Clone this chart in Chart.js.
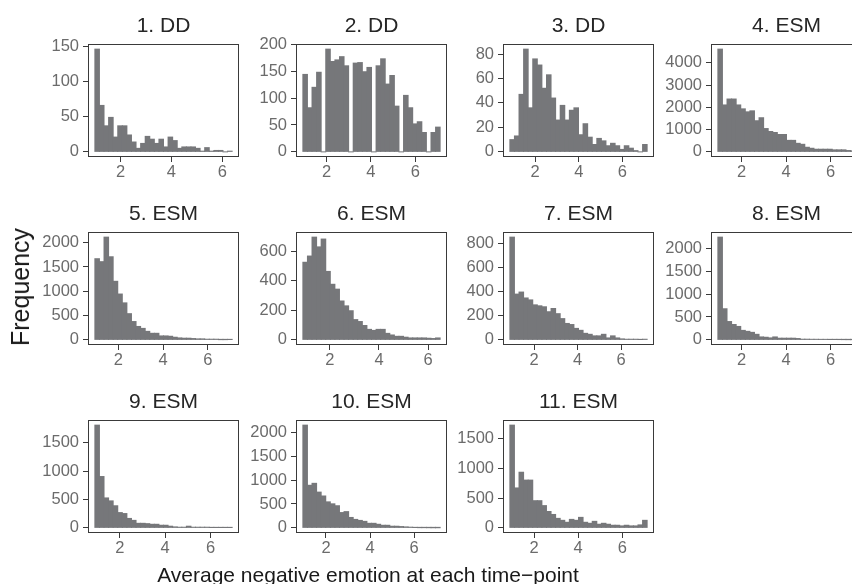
<!DOCTYPE html>
<html><head><meta charset="utf-8">
<script src="https://cdn.jsdelivr.net/npm/chart.js@4.4.0/dist/chart.umd.min.js"></script>
<style>
html,body{margin:0;padding:0;background:#fff}
body{width:852px;height:584px;overflow:hidden;position:relative;font-family:"Liberation Sans",Arial,sans-serif}
canvas{position:absolute}
.ptitle{position:absolute;text-align:center;font-size:21px;line-height:24px;color:#262626;white-space:nowrap}
.axtitle{position:absolute;font-size:21px;line-height:24px;color:#1a1a1a;white-space:nowrap}
</style></head><body>
<script>
const titles = ["1. DD","2. DD","3. DD","4. ESM","5. ESM","6. ESM","7. ESM","8. ESM","9. ESM","10. ESM","11. ESM"];
// left / right edges of the 30-bin histogram range for each panel (data units)
const binLow  = [0.99,0.93,0.84,0.94,0.95,0.90,0.89,0.94,0.90,0.95,0.90];
const binHigh = [6.39,7.12,7.14,7.10,7.08,6.49,7.19,7.10,6.95,7.18,7.13];

const counts1  = [146,66,37,49,21,37,37,24,14,5,12,22,18,12,18,7,21,16,5,7,7,7,5,1,6,1,2,2,0,1];
const counts2  = [144,82,120,148,0,191,168,171,177,160,0,165,166,149,157,0,160,173,126,142,85,0,105,82,52,56,36,0,36,46];
const counts3  = [10,13,47,84,36,76,71,52,63,44,26,38,26,34,36,14,23,12,6,11,9,5,7,5,2,5,3,1,0,6];
const counts4  = [4620,2110,2376,2376,2110,1934,1800,1845,1400,1535,1048,915,870,782,782,517,517,384,340,207,162,118,118,118,118,90,90,90,60,45];
const counts5  = [1670,1609,2114,1710,1205,943,761,539,377,276,236,175,135,135,81,81,74,54,40,34,34,27,20,20,13,13,13,5,5,7];
const counts6  = [525,567,695,629,682,463,376,343,263,230,197,137,124,97,71,64,71,71,44,33,24,24,18,13,13,13,13,11,9,13];
const counts7  = [851,379,396,347,331,290,282,274,233,260,217,176,136,127,95,79,54,46,33,33,46,16,33,16,8,5,5,5,3,5];
const counts8  = [2243,679,400,336,293,207,186,164,121,64,57,43,64,36,36,36,36,29,14,14,12,12,10,10,8,8,7,6,5,5];
const counts9  = [1809,904,527,475,389,269,252,166,132,80,80,74,63,63,46,46,29,17,11,11,29,11,11,11,11,6,6,6,6,6];
const counts10 = [2150,891,932,748,667,544,503,463,320,340,218,177,156,136,95,95,75,54,54,34,34,27,20,14,7,5,5,4,3,3];
const counts11 = [1732,673,938,805,805,458,458,375,276,226,160,127,94,143,127,177,94,77,110,61,77,61,44,44,33,44,33,33,50,127];
const allCounts = [counts1,counts2,counts3,counts4,counts5,counts6,counts7,counts8,counts9,counts10,counts11];

const yTicks1 = [0,50,100,150];
const yTicks2 = [0,50,100,150,200];
const yTicks3 = [0,20,40,60,80];
const yTicks4 = [0,1000,2000,3000,4000];
const yTicks5 = [0,500,1000,1500,2000];
const yTicks6 = [0,200,400,600];
const yTicks7 = [0,200,400,600,800];
const yTicks8 = [0,500,1000,1500,2000];
const yTicks9 = [0,500,1000,1500];
const yTicks10 = [0,500,1000,1500,2000];
const yTicks11 = [0,500,1000,1500];
const allYTicks = [yTicks1,yTicks2,yTicks3,yTicks4,yTicks5,yTicks6,yTicks7,yTicks8,yTicks9,yTicks10,yTicks11];
const xTicks = [2,4,6];

const xTitle = "Average negative emotion at each time−point";
const yTitle = "Frequency";

// ---------- layout ----------
const FONT = '"Liberation Sans", Arial, sans-serif';
const colX = c => Math.round(88 + c * 207.7);
const rowY = r => Math.round(43.5 + r * 188.3);
const PW = 151, PH = 113;
const ML = 80, MT = 24, MR = 24, MB = 40;
const BAR = '#76777a';

const borderPlugin = {
  id: 'panelBorder',
  afterDraw(chart) {
    const {ctx, chartArea: a} = chart;
    ctx.save();
    ctx.strokeStyle = '#3a3a3a';
    ctx.lineWidth = 1;
    ctx.strokeRect(Math.round(a.left) + 0.5, Math.round(a.top) + 0.5,
                   Math.round(a.right - a.left) - 1, Math.round(a.bottom - a.top) - 1);
    ctx.restore();
  }
};

allCounts.forEach((cnt, i) => {
  const c = i % 4, r = Math.floor(i / 4);
  const L = colX(c), T = rowY(r);
  const cv = document.createElement('canvas');
  cv.width = PW + ML + MR; cv.height = PH + MT + MB;
  cv.style.width = cv.width + 'px'; cv.style.height = cv.height + 'px';
  cv.style.left = (L - ML) + 'px'; cv.style.top = (T - MT) + 'px';
  document.body.appendChild(cv);

  const t = document.createElement('div');
  t.className = 'ptitle';
  t.textContent = titles[i];
  t.style.left = L + 'px'; t.style.width = PW + 'px';
  t.style.top = (T - 31) + 'px';
  document.body.appendChild(t);

  const lo = binLow[i], hi = binHigh[i], span = hi - lo, w = span / cnt.length;
  const data = cnt.map((v, k) => ({x: lo + (k + 0.5) * w, y: v}));
  const ymax = Math.max(...cnt);
  const yt = allYTicks[i];

  new Chart(cv, {
    type: 'bar',
    data: {datasets: [{data, backgroundColor: BAR, borderWidth: 0, barPercentage: 1, categoryPercentage: 1, inflateAmount: 0.5}]},
    options: {
      responsive: false, animation: false, devicePixelRatio: 1,
      layout: {padding: {left: 0, top: MT, right: MR, bottom: 0}},
      plugins: {legend: {display: false}, tooltip: {enabled: false}, title: {display: false}},
      scales: {
        x: {
          type: 'linear', min: lo - 0.05 * span, max: hi + 0.05 * span, offset: false,
          afterBuildTicks: s => { s.ticks = xTicks.map(v => ({value: v})); },
          afterFit: s => { s.height = MB; },
          grid: {display: true, drawOnChartArea: false, drawTicks: true, tickLength: 5, color: '#3a3a3a', offset: false},
          border: {display: false},
          ticks: {font: {family: FONT, size: 16.5}, color: '#6b6b6b', padding: 1, maxRotation: 0, autoSkip: false,
                  callback: v => String(v)}
        },
        y: {
          type: 'linear', min: -0.05 * ymax, max: 1.05 * ymax,
          afterBuildTicks: s => { s.ticks = yt.map(v => ({value: v})); },
          afterFit: s => { s.width = ML; },
          grid: {display: true, drawOnChartArea: false, drawTicks: true, tickLength: 5, color: '#3a3a3a'},
          border: {display: false},
          ticks: {font: {family: FONT, size: 16.5}, color: '#6b6b6b', padding: 4, autoSkip: false,
                  callback: v => String(v)}
        }
      }
    },
    plugins: [borderPlugin]
  });
});

const xt = document.createElement('div');
xt.className = 'axtitle';
xt.textContent = xTitle;
xt.style.left = '0px'; xt.style.width = '736px'; xt.style.textAlign = 'center';
xt.style.top = '563px';
document.body.appendChild(xt);

const ytd = document.createElement('div');
ytd.className = 'axtitle';
ytd.textContent = yTitle;
ytd.style.fontSize = '25px';
ytd.style.left = '20px'; ytd.style.top = '287px';
ytd.style.transform = 'translate(-50%,-50%) rotate(-90deg)';
document.body.appendChild(ytd);
</script>
</body></html>
